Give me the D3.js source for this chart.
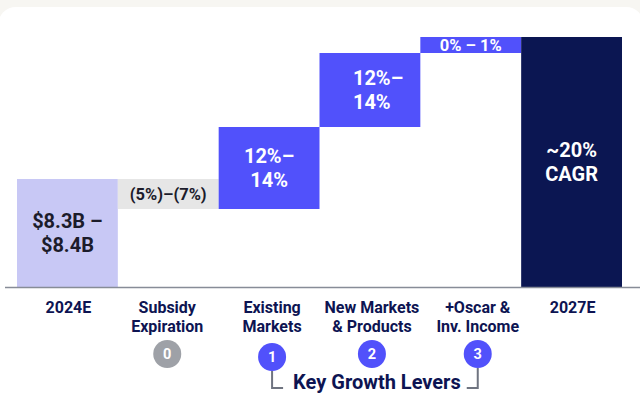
<!DOCTYPE html>
<html>
<head>
<meta charset="utf-8">
<script src="https://cdn.jsdelivr.net/npm/d3@7"></script>
<style>
  html, body { margin: 0; padding: 0; background: #f7f6f2; }
  svg { display: block; }
  text { font-family: Roboto, "Noto Sans", sans-serif; }
</style>
</head>
<body>
<div id="chart"></div>
<script>
// ---- data ----
const categories = ["2024E", "Subsidy Expiration", "Existing Markets", "New Markets & Products", "+Oscar & Inv. Income", "2027E"];
const categoryLines = [["2024E"], ["Subsidy", "Expiration"], ["Existing", "Markets"], ["New Markets", "& Products"], ["+Oscar &", "Inv. Income"], ["2027E"]];
// relative index units (2027E = 100)
const barKinds = ["total", "delta", "delta", "delta", "delta", "total"];
const barValues = [43.2, -12, 32.8, 29.6, 6.4, 100];
const barLabels = [["$8.3B –", "$8.4B"], ["(5%)–(7%)"], ["12%–", "14%"], ["12%–", "14%"], ["0% – 1%"], ["~20%", "CAGR"]];
const leverNumbers = [null, "0", "1", "2", "3", null];
const leverTitle = "Key Growth Levers";

// ---- style ----
const W = 640, H = 400;
const barColors = ["#c8c8f5", "#e6e6e6", "#5151fb", "#5151fb", "#5151fb", "#0b1652"];
const labelColors = ["#1c1c2b", "#1c1c2b", "#ffffff", "#ffffff", "#ffffff", "#ffffff"];
const labelSizes = [20, 16.5, 20, 20, 16.5, 20];
const labelAnchor = ["middle", "middle", "middle", "start", "middle", "middle"];
const labelNudge = [0, 0, 0, -17, 0, 0];
const catNudge = [1, -1, 3, 2, 7, 1];
const circleColors = [null, "#9ea1a7", "#5151fb", "#5151fb", "#5151fb", null];
const circleDy = [0, 0, 3, 0, 0, 0];
const navy = "#0d1452";

const svg = d3.select("#chart").append("svg").attr("width", W).attr("height", H);

// background card
svg.append("rect").attr("x", 0).attr("y", 0).attr("width", W).attr("height", H).attr("fill", "#f7f6f2");
svg.append("rect").attr("x", -2).attr("y", 7).attr("width", 646).attr("height", 420).attr("rx", 18).attr("fill", "#ffffff");

const x = d3.scaleBand().domain(categories).range([17, 622]).paddingInner(0).paddingOuter(0);
const y = d3.scaleLinear().domain([0, 100]).range([287, 37]);

// compute waterfall extents
let running = 0;
const bars = categories.map((c, i) => {
  let y0, y1;
  if (barKinds[i] === "total") { y0 = 0; y1 = barValues[i]; running = barValues[i]; }
  else { y0 = running; y1 = running + barValues[i]; running = y1; }
  return { cat: c, i, lo: Math.min(y0, y1), hi: Math.max(y0, y1) };
});

svg.append("g").selectAll("rect").data(bars).join("rect")
  .attr("x", d => x(d.cat))
  .attr("width", x.bandwidth())
  .attr("y", d => y(d.hi))
  .attr("height", d => y(d.lo) - y(d.hi))
  .attr("fill", d => barColors[d.i]);

// bar labels
bars.forEach(d => {
  const lines = barLabels[d.i];
  const fs = labelSizes[d.i];
  const lh = fs * 1.17;
  const cy = (y(d.lo) + y(d.hi)) / 2;
  const cap = fs * 0.711;
  const anchor = labelAnchor[d.i];
  const tx = x(d.cat) + x.bandwidth() / 2 + labelNudge[d.i];
  lines.forEach((ln, k) => {
    svg.append("text")
      .attr("x", tx)
      .attr("y", cy + cap / 2 + (k - (lines.length - 1) / 2) * lh)
      .attr("text-anchor", anchor)
      .attr("font-size", fs)
      .attr("font-weight", 700)
      .attr("fill", labelColors[d.i])
      .text(ln);
  });
});

// baseline
svg.append("line").attr("x1", 5).attr("x2", 640).attr("y1", y(0) + 0.5).attr("y2", y(0) + 0.5)
  .attr("stroke", "#878c97").attr("stroke-width", 1.5);

// category labels
categories.forEach((c, i) => {
  categoryLines[i].forEach((ln, k) => {
    svg.append("text")
      .attr("x", x(c) + x.bandwidth() / 2 + catNudge[i])
      .attr("y", 312.5 + k * 19.5)
      .attr("text-anchor", "middle")
      .attr("font-size", 16)
      .attr("font-weight", 700)
      .attr("fill", navy)
      .text(ln);
  });
});

// lever circles
categories.forEach((c, i) => {
  if (!leverNumbers[i]) return;
  const cx = x(c) + x.bandwidth() / 2 + catNudge[i];
  const cy = 354 + circleDy[i];
  svg.append("circle").attr("cx", cx).attr("cy", cy).attr("r", 14).attr("fill", circleColors[i]);
  svg.append("text").attr("x", cx).attr("y", cy + 5).attr("text-anchor", "middle")
    .attr("font-size", 14.5).attr("font-weight", 700).attr("fill", "#ffffff").text(leverNumbers[i]);
});

// bracket for key growth levers
const c1 = x(categories[2]) + x.bandwidth() / 2 + catNudge[2];
const c3 = x(categories[4]) + x.bandwidth() / 2 + catNudge[4];
svg.append("path")
  .attr("d", `M${c1},${354 + circleDy[2] + 14} V388 H${c1 + 11}`)
  .attr("fill", "none").attr("stroke", "#6f7480").attr("stroke-width", 2);
svg.append("path")
  .attr("d", `M${c3 - 11},388 H${c3} V${354 + 14}`)
  .attr("fill", "none").attr("stroke", "#6f7480").attr("stroke-width", 2);
svg.append("text").attr("x", c1 + 21).attr("y", 389)
  .attr("font-size", 20).attr("font-weight", 700).attr("fill", navy).text(leverTitle);
</script>
</body>
</html>
